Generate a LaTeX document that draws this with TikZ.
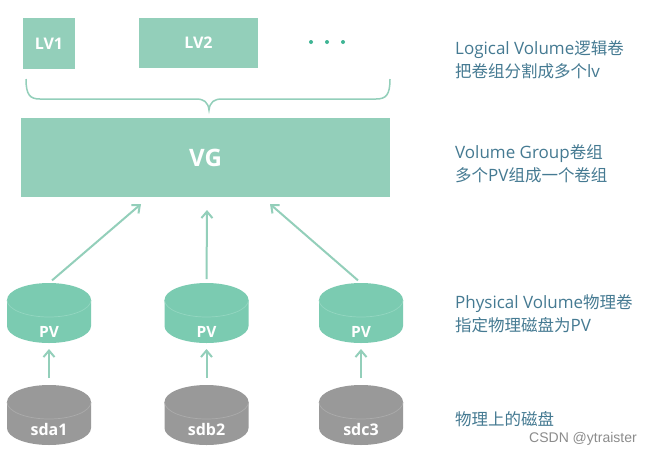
\documentclass[tikz,border=0pt]{standalone}
\usepackage{fontspec}
\setmainfont{Open Sans}
\newfontfamily\cjk[Scale=0.97]{Noto Sans CJK SC}
\newfontfamily\wm{Liberation Sans}
\usetikzlibrary{arrows.meta}
\definecolor{lvgreen}{HTML}{93CFBA}
\definecolor{pvgreen}{HTML}{7BCBB1}
\definecolor{rimgreen}{HTML}{93D6C0}
\definecolor{diskgray}{HTML}{999999}
\definecolor{rimgray}{HTML}{ABABAB}
\definecolor{notecol}{HTML}{457A92}
\definecolor{dotcol}{HTML}{3FB594}
% name, centre x, centre y, fill, rim colour, label dy, label size, label
\newcommand\diskshape[8]{%
  \fill[#4] (#2-42,#3-13) .. controls (#2-42,#3-22.5) and (#2-23,#3-30) .. (#2,#3-30) .. controls (#2+23,#3-30) and (#2+42,#3-22.5) .. (#2+42,#3-13) -- (#2+42,#3+13) .. controls (#2+42,#3+22.5) and (#2+23,#3+30) .. (#2,#3+30) .. controls (#2-23,#3+30) and (#2-42,#3+22.5) .. (#2-42,#3+13) -- cycle;
  \draw[line width=.7pt,#5] (#2-42,#3-13) .. controls (#2-42,#3-3.5) and (#2-23,#3+4) .. (#2,#3+4) .. controls (#2+23,#3+4) and (#2+42,#3-3.5) .. (#2+42,#3-13);
  \node[diskbody] (#1) at (#2,#3) {};
  \node[disklabel] (#1t) at (#2,#3+#6) {\fontsize{#7}{#7}\selectfont\bfseries #8};
}
\tikzset{
  x=1pt,y=-1pt,
  greenbox/.style={fill=lvgreen,draw=none,inner sep=0pt,outer sep=0pt},
  boxtext/.style={text=white,font=\fontsize{16}{16}\selectfont\bfseries},
  diskbody/.style={rectangle,minimum width=84pt,minimum height=60pt,inner sep=0pt,outer sep=0pt,draw=none},
  disklabel/.style={text=white,inner sep=0pt},
  link/.style={draw=lvgreen,line width=2pt,-{Straight Barb[length=6.5pt,width=11pt,line width=2pt]}},
  note/.style={anchor=west,align=left,text=notecol,inner sep=0pt,font=\fontsize{17}{23}\selectfont},
  dotmark/.style={circle,fill=dotcol,inner sep=0pt,minimum size=4pt}
}
\begin{document}
\begin{tikzpicture}
\useasboundingbox (0,0) rectangle (653,456);
\fill[white] (0,0) rectangle (653,456);
% logical volumes
\node[greenbox,boxtext,minimum width=52pt,minimum height=51pt] (lv1) at (49,43.5) {LV1};
\node[greenbox,boxtext,minimum width=119pt,minimum height=50pt] (lv2) at (198.5,43) {LV2};
\node[dotmark] (d1) at (311,42) {};
\node[dotmark] (d2) at (327,42) {};
\node[dotmark] (d3) at (343,42) {};
% brace
\draw[lvgreen,line width=1.5pt] (26,79) .. controls (26,95) and (30,99) .. (40,99) -- (196,99) .. controls (204,99) and (208,102) .. (209,110) .. controls (210,102) and (214,99) .. (222,99) -- (376,99) .. controls (386,99) and (390,95) .. (390,79);
% VG
\node[greenbox,text=white,minimum width=369pt,minimum height=79pt,font=\fontsize{24}{24}\selectfont\bfseries] (vg) at (205.5,157.5) {VG};
% disks
\diskshape{pv1}{49}{313}{pvgreen}{rimgreen}{19}{15.5}{PV}
\diskshape{pv2}{206.5}{313}{pvgreen}{rimgreen}{19}{15.5}{PV}
\diskshape{pv3}{361}{313}{pvgreen}{rimgreen}{19}{15.5}{PV}
\diskshape{sd1}{49}{415}{diskgray}{rimgray}{14}{16}{sda1}
\diskshape{sd2}{206.5}{415}{diskgray}{rimgray}{14}{16}{sdb2}
\diskshape{sd3}{361}{415}{diskgray}{rimgray}{14}{16}{sdc3}
% connectors
\coordinate (a1) at (141,204);
\coordinate (a2) at (207,210);
\coordinate (a3) at (270,204);
\draw[link,shorten <=4pt] (pv1.north) -- (a1);
\draw[link,shorten <=4pt] (pv2.north) -- (a2);
\draw[link,shorten <=4pt] (pv3.north) -- (a3);
\draw[link,shorten <=7pt,shorten >=6pt] (sd1.north) -- (pv1.south);
\draw[link,shorten <=7pt,shorten >=6pt] (sd2.north) -- (pv2.south);
\draw[link,shorten <=7pt,shorten >=6pt] (sd3.north) -- (pv3.south);
% notes
\node[note] (n1) at (455,60) {Logical Volume{\cjk 逻辑卷}\\{\cjk 把卷组分割成多个}lv};
\node[note] (n2) at (455,164) {Volume Group{\cjk 卷组}\\{\cjk 多个}PV{\cjk 组成一个卷组}};
\node[note] (n3) at (455,314) {Physical Volume{\cjk 物理卷}\\{\cjk 指定物理磁盘为}PV};
\node[note] (n4) at (455,419) {\cjk 物理上的磁盘};
\node[anchor=west,inner sep=0pt,text=black!45,font=\wm\fontsize{14}{14}\selectfont] (wm) at (529,439) {CSDN @ytraister};
\end{tikzpicture}
\end{document}
